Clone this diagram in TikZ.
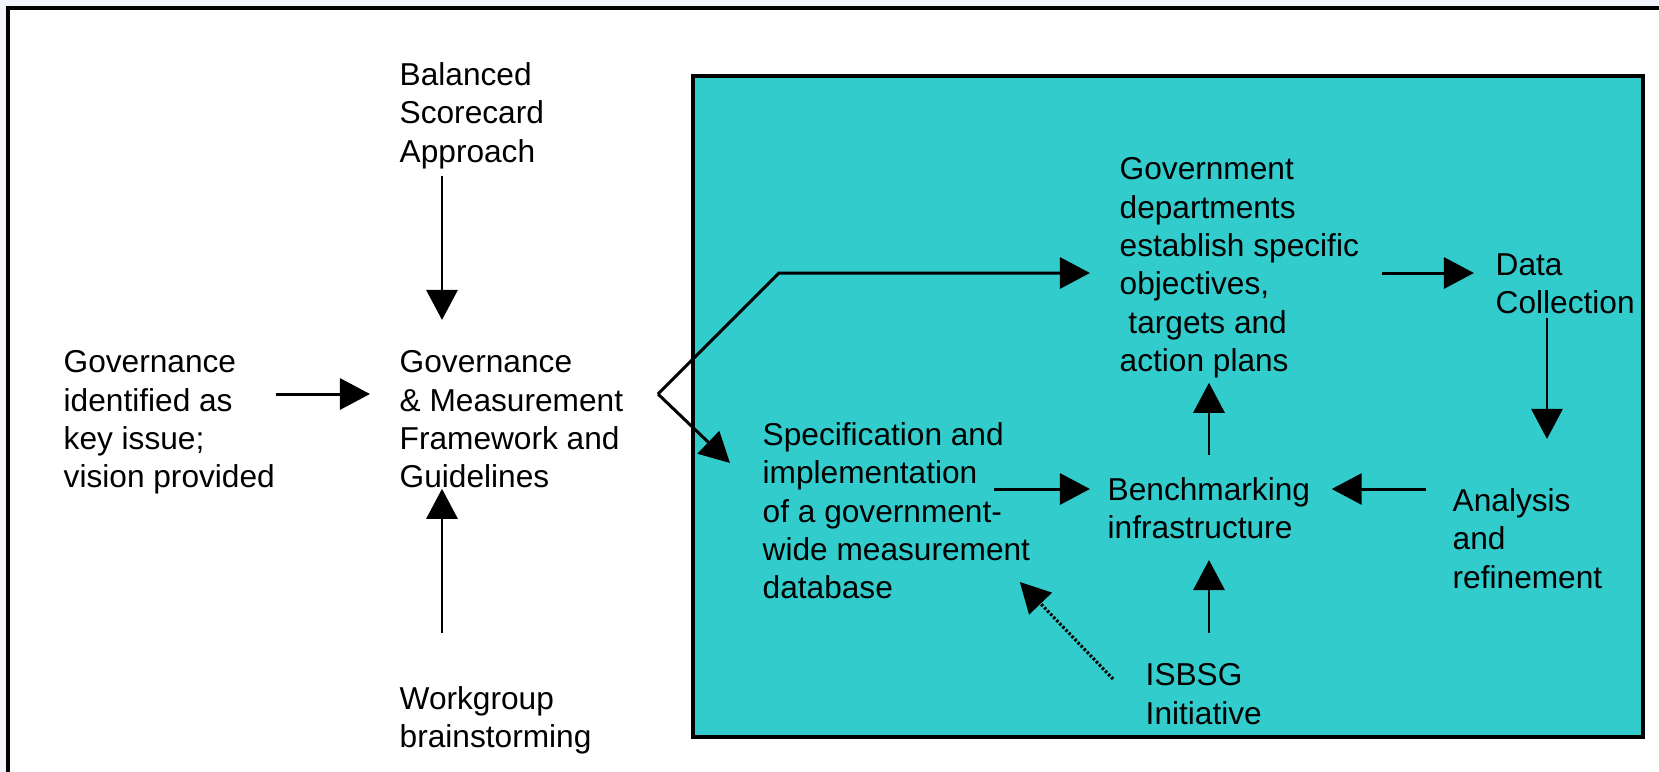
\documentclass[tikz,border=0pt]{standalone}
\usepackage{fontspec}
\setmainfont{Liberation Sans}
\usetikzlibrary{arrows.meta, calc}
\definecolor{ink}{HTML}{000000}
\definecolor{pool}{HTML}{33CCCC}
\definecolor{paper}{HTML}{F3F5FE}

\begin{document}
\begin{tikzpicture}[
  x=0.01cm, y=-0.01cm,
  txt/.style={anchor=north west, inner sep=0pt, align=left,
              font=\fontsize{9}{10.9}\selectfont, text=ink},
  arr/.style={-{Triangle[length=0.3cm, width=0.31cm]}, line width=0.85pt, draw=ink},
  dotarr/.style={arr, line width=0.9pt, dash pattern=on 0.7pt off 0.55pt},
  frame/.style={draw=ink, line width=0.9pt}
]
\useasboundingbox (0,0) rectangle (1659,772);

% page and frame
\fill[paper] (0,0) rectangle (1659,772);
\fill[white, frame] (8,8) rectangle (1720,830);
\draw[frame, fill=pool] (693,76) rectangle (1643,737);

% helper rows and columns
\coordinate (colA) at (442,0);
\coordinate (colB) at (1209,0);
\coordinate (colC) at (1547,0);
\coordinate (rowA) at (0,394);
\coordinate (rowC) at (0,489);
\coordinate (fork) at (658,394);

% text blocks
\node[txt] (gov) at (63,350) {Governance\\identified as\\key issue;\\vision provided};
\node[txt] (bsc) at (399,62) {Balanced\\Scorecard\\Approach};
\node[txt] (gm) at (399,350) {Governance\\\& Measurement\\Framework and\\Guidelines};
\node[txt] (wb) at (399,686) {Workgroup\\brainstorming};

\node[txt] (dept) at (1119,157) {Government\\departments\\establish specific\\objectives,\\\ targets and\\action plans};
\node[txt] (data) at (1495,253) {Data\\Collection};
\node[txt] (ana) at (1452,488) {Analysis\\and\\refinement};
\node[txt] (bench) at (1107,477) {Benchmarking\\infrastructure};
\node[txt] (spec) at (762,422) {Specification and\\implementation\\of a government-\\wide measurement\\database};
\node[txt] (isbsg) at (1145,663) {ISBSG\\Initiative};

% left part
\draw[arr, shorten <=0.06cm, shorten >=0.30cm] (bsc.south -| colA) -- (gm.north -| colA);
\draw[arr, shorten <=0.53cm] (wb.north -| colA) -- (gm.south -| colA);
\draw[arr, shorten >=0.29cm] (gov.east |- rowA) -- (gm.west |- rowA);

% fork into the box
\draw[arr, shorten >=0.29cm] (fork) -- ++(121,-121) coordinate (bend) -- (bend -| dept.west);
\draw[arr] (fork) -- ($(spec.north west)+(-32,41)$);

% cycle inside the box
\draw[arr, shorten <=0.22cm, shorten >=0.21cm] (dept.east |- bend) -- (data.west |- bend);
\draw[arr, shorten <=0.03cm, shorten >=0.49cm] (data.south -| colC) -- (ana.north -| colC);
\draw[arr, shorten <=0.26cm, shorten >=0.21cm] (ana.west |- rowC) -- (bench.east |- rowC);
\draw[arr, shorten <=-0.37cm, shorten >=0.17cm] (spec.east |- rowC) -- (bench.west |- rowC);
\draw[arr, shorten <=0.22cm, shorten >=0.04cm] (bench.north -| colB) -- (dept.south -| colB);
\draw[arr, shorten <=0.30cm, shorten >=0.20cm] (isbsg.north -| colB) -- (bench.south -| colB);
\draw[dotarr] ($(isbsg.north west)+(-32,16)$) -- ($(spec.south east)+(-11,-18)$);

\end{tikzpicture}
\end{document}
